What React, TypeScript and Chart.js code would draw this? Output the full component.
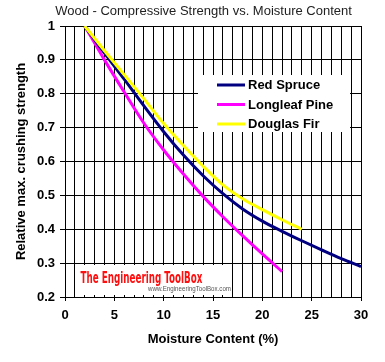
import React, { useEffect, useRef } from 'react';
import { Chart, registerables } from 'chart.js';

Chart.register(...registerables);

// ---- data ----
const chartTitle = 'Wood - Compressive Strength vs. Moisture Content';
const xAxisTitle = 'Moisture Content (%)';
const yAxisTitle = 'Relative max. crushing strength';

const redSpruceMoisture = [2, 4, 6, 8, 10, 12, 14, 16, 18, 20, 22, 24, 26, 28, 30];
const redSpruceStrength = [1.0, 0.92, 0.843, 0.764, 0.688, 0.619, 0.558, 0.505, 0.46, 0.424, 0.394, 0.366, 0.339, 0.313, 0.29];

const longleafMoisture = [2, 4, 6, 8, 10, 12, 14, 16, 18, 20, 22];
const longleafStrength = [1.0, 0.9, 0.805, 0.713, 0.634, 0.563, 0.497, 0.437, 0.381, 0.327, 0.275];

const douglasMoisture = [2, 4, 6, 8, 10, 12, 14, 16, 18, 20, 22, 24];
const douglasStrength = [1.0, 0.927, 0.856, 0.785, 0.712, 0.647, 0.586, 0.531, 0.49, 0.458, 0.428, 0.4];

const seriesNames = ['Red Spruce', 'Longleaf Pine', 'Douglas Fir'];
const seriesColors = ['#000080', '#ff00ff', '#ffff00'];

const xMin = 0;
const xMax = 30;
const xStep = 1;
const xLabelEvery = 5;
const yMin = 0.2;
const yMax = 1;
const yStep = 0.1;

const watermarkTitle = 'The Engineering ToolBox';
const watermarkUrl = 'www.EngineeringToolBox.com';

const FONT = '"Liberation Sans", Arial, sans-serif';

const toPoints = (xs: number[], ys: number[]) => xs.map((x, i) => ({ x, y: ys[i] }));

const decorPlugin = {
  id: 'decor',
  beforeDatasetsDraw(chart: any) {
    const ctx: CanvasRenderingContext2D = chart.ctx;
    ctx.save();
    // white boxes (watermark + legend) over the grid
    ctx.fillStyle = '#ffffff';
    ctx.fillRect(76, 265, 156, 30);
    ctx.fillRect(198, 75, 152, 57);

    // watermark title
    ctx.fillStyle = '#ff1010';
    ctx.font = 'bold 15px "Liberation Sans Narrow", "DejaVu Sans Condensed", sans-serif';
    ctx.textBaseline = 'alphabetic';
    ctx.textAlign = 'left';
    const w1 = ctx.measureText(watermarkTitle).width;
    ctx.save();
    ctx.translate(80.5, 282.5);
    ctx.scale(122 / w1, 1);
    ctx.fillText(watermarkTitle, 0, 0);
    ctx.restore();

    // watermark url
    ctx.fillStyle = '#555';
    ctx.font = '7px ' + FONT;
    ctx.textBaseline = 'middle';
    const w2 = ctx.measureText(watermarkUrl).width;
    ctx.save();
    ctx.translate(148, 289);
    ctx.scale(83 / w2, 1);
    ctx.fillText(watermarkUrl, 0, 0);
    ctx.restore();

    // legend
    chart.data.datasets.forEach((ds: any, i: number) => {
      const y = 85 + i * 19.5;
      ctx.strokeStyle = ds.borderColor;
      ctx.lineWidth = 3;
      ctx.beginPath();
      ctx.moveTo(217, y);
      ctx.lineTo(245, y);
      ctx.stroke();
      ctx.fillStyle = '#000';
      ctx.font = 'bold 13px ' + FONT;
      ctx.textAlign = 'left';
      ctx.textBaseline = 'middle';
      ctx.fillText(ds.label, 248, y + 0.5);
    });
    ctx.restore();
  },
  afterDraw(chart: any) {
    const ctx: CanvasRenderingContext2D = chart.ctx;
    ctx.save();
    ctx.fillStyle = '#222';
    ctx.font = '13px ' + FONT;
    ctx.textAlign = 'center';
    ctx.textBaseline = 'middle';
    ctx.fillText(chartTitle, 203.5, 11.5);
    ctx.restore();
  },
};

export default function App() {
  const canvasRef = useRef<HTMLCanvasElement | null>(null);

  useEffect(() => {
    document.body.style.margin = '0';
    const canvas = canvasRef.current;
    if (!canvas) return;
    const chart = new Chart(canvas, {
      type: 'line',
      data: {
        datasets: [
          {
            label: seriesNames[0],
            data: toPoints(redSpruceMoisture, redSpruceStrength),
            borderColor: seriesColors[0],
            backgroundColor: seriesColors[0],
            borderWidth: 3,
            pointRadius: 0,
            cubicInterpolationMode: 'monotone',
            order: 1,
          },
          {
            label: seriesNames[1],
            data: toPoints(longleafMoisture, longleafStrength),
            borderColor: seriesColors[1],
            backgroundColor: seriesColors[1],
            borderWidth: 3,
            pointRadius: 0,
            cubicInterpolationMode: 'monotone',
            order: 2,
          },
          {
            label: seriesNames[2],
            data: toPoints(douglasMoisture, douglasStrength),
            borderColor: seriesColors[2],
            backgroundColor: seriesColors[2],
            borderWidth: 3,
            pointRadius: 0,
            cubicInterpolationMode: 'monotone',
            order: 0,
          },
        ],
      },
      options: {
        animation: false,
        responsive: false,
        devicePixelRatio: 1,
        layout: { padding: { left: 0, right: 24, top: 26, bottom: 0 } },
        plugins: {
          legend: { display: false },
          title: { display: false },
          tooltip: { enabled: false },
        },
        scales: {
          x: {
            type: 'linear',
            min: xMin,
            max: xMax,
            afterFit: (scale: any) => {
              scale.height = 65;
            },
            grid: {
              color: '#000',
              lineWidth: 1,
              drawTicks: true,
              tickLength: 4,
              tickColor: (c: any) =>
                c.tick && Math.round(c.tick.value) % xLabelEvery === 0 ? '#000' : 'rgba(0,0,0,0)',
            },
            border: { display: true, color: '#000', width: 1 },
            ticks: {
              stepSize: xStep,
              autoSkip: false,
              maxRotation: 0,
              padding: 7,
              color: '#000',
              font: { family: FONT, size: 13, weight: 'bold' },
              callback: (v: any) => (Math.round(v) % xLabelEvery === 0 ? String(Math.round(v)) : ''),
            },
            title: {
              display: true,
              text: xAxisTitle,
              color: '#000',
              font: { family: FONT, size: 13, weight: 'bold' },
              padding: { top: 0, bottom: 15.2 },
            },
          },
          y: {
            type: 'linear',
            min: yMin,
            max: yMax,
            afterFit: (scale: any) => {
              scale.width = 65;
            },
            grid: {
              color: '#000',
              lineWidth: 1,
              drawTicks: true,
              tickLength: 5,
              tickColor: '#000',
            },
            border: { display: true, color: '#000', width: 1 },
            ticks: {
              stepSize: yStep,
              autoSkip: false,
              padding: 5,
              color: '#000',
              font: { family: FONT, size: 13, weight: 'bold' },
              callback: (v: any) => String(Number(Number(v).toFixed(1))),
            },
            title: {
              display: true,
              text: yAxisTitle,
              color: '#000',
              font: { family: FONT, size: 13, weight: 'bold' },
              padding: { top: 13.7, bottom: 0 },
            },
          },
        },
      } as any,
      plugins: [decorPlugin],
    });
    return () => chart.destroy();
  }, []);

  return (
    <div style={{ width: 385, height: 362 }}>
      <canvas ref={canvasRef} width={385} height={362} style={{ width: 385, height: 362, display: 'block' }} />
    </div>
  );
}
